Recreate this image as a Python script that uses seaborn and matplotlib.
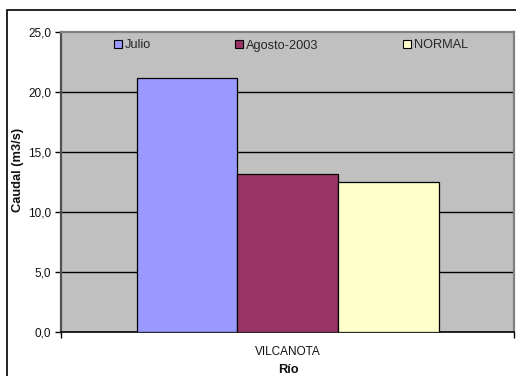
import matplotlib
matplotlib.use("Agg")
import matplotlib.pyplot as plt
from matplotlib.patches import Rectangle
from matplotlib.ticker import FuncFormatter, FixedLocator
import seaborn as sns
import pandas as pd

# Caudal del río Vilcanota (m3/s)
rios = ["VILCANOTA"]
series = ["Julio", "Agosto-2003", "NORMAL"]
julio = [21.2]
agosto_2003 = [13.2]
normal = [12.5]
colores = ["#9999FF", "#993366", "#FFFFCC"]

df = pd.DataFrame({
    "Río": rios * 3,
    "Serie": series[0:1] * len(rios) + series[1:2] * len(rios) + series[2:3] * len(rios),
    "Caudal": julio + agosto_2003 + normal,
})

sns.set_theme(style="white")
plt.rcParams["font.family"] = ["Liberation Sans", "DejaVu Sans"]

W, H = 516, 376
fig = plt.figure(figsize=(W / 100, H / 100), dpi=100)
ax = fig.add_axes([61 / W, 1 - 332.3 / H, (514 - 61) / W, (332.3 - 32) / H])
ax.set_facecolor("#C0C0C0")

sns.barplot(data=df, x="Río", y="Caudal", hue="Serie", hue_order=series,
            palette=colores, width=2 / 3, saturation=1, edgecolor="black",
            linewidth=0.9, ax=ax, zorder=3)

ax.set_xlim(-0.5, 0.5)
ax.set_ylim(0, 25)
ax.set_yticks([0, 5, 10, 15, 20, 25])
ax.yaxis.set_major_formatter(FuncFormatter(lambda v, p: f"{v:.1f}".replace(".", ",")))
for yv in [5, 10, 15, 20]:
    ax.axhline(yv, color="black", lw=1.0, zorder=1)

ax.tick_params(axis="y", direction="out", length=4, width=1, color="black",
               labelsize=8.5, pad=3, left=True)
ax.tick_params(axis="x", which="major", length=0, labelsize=8.5, pad=10)
ax.xaxis.set_minor_locator(FixedLocator([-0.5, 0.5]))
ax.tick_params(axis="x", which="minor", direction="out", length=4, width=1,
               color="black", bottom=True)
for lab in ax.get_xticklabels() + ax.get_yticklabels():
    lab.set_color("#111111")

ax.set_xlabel("")
ax.set_ylabel("")
for side in ["top", "right"]:
    ax.spines[side].set_color("#808080")
    ax.spines[side].set_linewidth(1.6)
ax.spines["left"].set_color("#505050")
ax.spines["left"].set_linewidth(1.6)
ax.spines["bottom"].set_color("black")
ax.spines["bottom"].set_linewidth(1.2)

fig.text(18 / W, 1 - 170 / H, "Caudal (m3/s)", rotation=90, ha="center",
         va="center", fontsize=9.3, fontweight="bold", color="#111111")
fig.text(288 / W, 1 - 370 / H, "Río", ha="center", va="center",
         fontsize=9.3, fontweight="bold", color="#111111")

leg = ax.legend(loc="center left", bbox_to_anchor=(114 / W, 1 - 45.5 / H),
                bbox_transform=fig.transFigure, ncol=3, frameon=False,
                fontsize=9.2, handlelength=0.6, handleheight=0.6,
                handletextpad=0.25, columnspacing=6.6, borderpad=0,
                borderaxespad=0)
for h in leg.legend_handles:
    h.set_edgecolor("black")
    h.set_linewidth(0.8)

# Marco del gráfico
fig.patches.append(Rectangle((7 / W, -0.1), 1.2, 1 - 10 / H + 0.1,
                             transform=fig.transFigure, fill=False,
                             edgecolor="black", linewidth=1.2, figure=fig))

fig.savefig("out.png", dpi=100, facecolor="white")
